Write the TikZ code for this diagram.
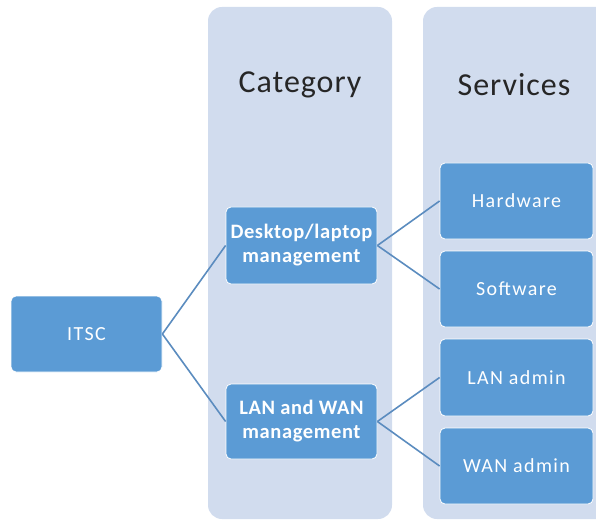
\documentclass[tikz,border=0pt]{standalone}
\usepackage{fontspec}
\setmainfont{Carlito}
\newfontfamily\hdrfont[LetterSpace=3]{Carlito}
\newfontfamily\boxfont[LetterSpace=7]{Carlito}
\newfontfamily\catfont[LetterSpace=3]{Carlito}
\begin{document}
\begin{tikzpicture}[x=1pt,y=-1pt,
  col/.style={fill=colbg,draw=none,rounded corners=14pt},
  box/.style={fill=boxbg,draw=white,line width=0.8pt,rounded corners=5pt,text=white,
    align=center,font=\boxfont\fontsize{20}{24}\selectfont,inner sep=0pt},
  catbox/.style={box,font=\catfont\bfseries\fontsize{20.5}{24}\selectfont},
  hdr/.style={text=black!85,font=\hdrfont\fontsize{32}{36}\selectfont},
  link/.style={draw=linkc,line width=1.6pt}]
\definecolor{colbg}{HTML}{D1DCEE}
\definecolor{boxbg}{HTML}{5B9BD5}
\definecolor{linkc}{HTML}{5B8CBF}
\useasboundingbox (0,0) rectangle (596,521);
\clip (0,0) rectangle (596,521);
\fill[col] (208,7) rectangle (392,519);
\fill[col] (423,7) rectangle (610,519);
\node[hdr] (hcat) at (300,84.5) {Category};
\node[hdr] (hsrv) at (514,84.5) {Services};
\node[box,minimum width=151pt,minimum height=76pt] (itsc) at (86.5,334) {ITSC};
\node[catbox,minimum width=151pt,minimum height=77pt] (desk) at (301.5,245.5) {Desktop/laptop\\management};
\node[catbox,minimum width=151pt,minimum height=75pt] (lan) at (301.5,421.5) {LAN and WAN\\management};
\node[box,minimum width=153pt,minimum height=76pt] (hw) at (516.5,201) {Hardware};
\node[box,minimum width=153pt,minimum height=76pt] (sw) at (516.5,289) {Software};
\node[box,minimum width=153pt,minimum height=77pt] (la) at (516.5,377.5) {LAN admin};
\node[box,minimum width=153pt,minimum height=76pt] (wa) at (516.5,466) {WAN admin};
\draw[link] (itsc.east) -- (desk.west);
\draw[link] (itsc.east) -- (lan.west);
\draw[link] (desk.east) -- (hw.west);
\draw[link] (desk.east) -- (sw.west);
\draw[link] (lan.east) -- (la.west);
\draw[link] (lan.east) -- (wa.west);
\end{tikzpicture}
\end{document}
